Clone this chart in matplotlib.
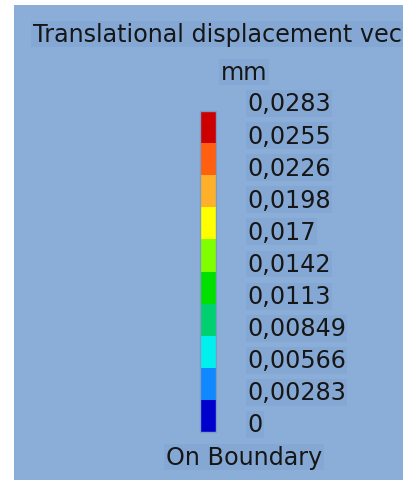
import matplotlib
matplotlib.use("Agg")
import matplotlib.pyplot as plt
from matplotlib.colors import ListedColormap, BoundaryNorm
from matplotlib.colorbar import ColorbarBase
from matplotlib.patches import Rectangle
from matplotlib.transforms import ScaledTranslation, blended_transform_factory

# Legend data
bounds = [0, 0.00283, 0.00566, 0.00849, 0.0113, 0.0142, 0.017, 0.0198, 0.0226, 0.0255, 0.0283]
tick_labels = ["0", "0,00283", "0,00566", "0,00849", "0,0113", "0,0142",
               "0,017", "0,0198", "0,0226", "0,0255", "0,0283"]
band_colors = ["#0000cc", "#1088ff", "#00f0f0", "#00d070", "#00e000",
               "#80ff00", "#ffff00", "#ffb02a", "#ff5f0f", "#cc0000"]
title = "Translational displacement vec"
unit = "mm"
footer = "On Boundary"

W, H, DPI = 403, 481, 100
bg = "#8aaed8"
box = "#84a8d3"
font = "DejaVu Sans"
fs = 17.2

fig = plt.figure(figsize=(W / DPI, H / DPI), dpi=DPI, facecolor="white")

# Panel background
fig.patches.append(Rectangle((14 / W, 0), 1 - 14 / W, 1 - 6 / H,
                             transform=fig.transFigure, facecolor=bg,
                             edgecolor="none", zorder=-10))

def fx(px):
    return px / W

def fy(py):
    return 1 - py / H

txt_kw = dict(fontfamily=font, fontsize=fs, color="#161616",
              bbox=dict(facecolor=box, edgecolor="none", pad=1.0))

fig.text(fx(217), fy(35), title, ha="center", va="center", **txt_kw)
fig.text(fx(244), fy(73), unit, ha="center", va="center", **txt_kw)
fig.text(fx(244), fy(458), footer, ha="center", va="center", **txt_kw)

# Colour bar
cax = fig.add_axes([fx(200), fy(433), 16 / W, 321 / H])
cax.set_zorder(5)
cmap = ListedColormap(band_colors)
norm = BoundaryNorm(bounds, cmap.N)
cb = ColorbarBase(cax, cmap=cmap, norm=norm, boundaries=bounds,
                  spacing="uniform", orientation="vertical")
cb.outline.set_edgecolor("#7f9cc4")
cb.outline.set_linewidth(1.0)
cb.set_ticks([])
cax.minorticks_off()
cax.tick_params(which="both", length=0, labelleft=False, labelright=False)
cax.set_xticks([])

# Value labels next to each band boundary
off = ScaledTranslation(31 / DPI, 7.5 / DPI, fig.dpi_scale_trans)
trans = blended_transform_factory(cax.transAxes, cax.transData) + off
for v, lab in zip(bounds, tick_labels):
    cax.text(1.0, v, lab, transform=trans, ha="left", va="center",
             clip_on=False, **txt_kw)

fig.savefig("out.png", dpi=DPI, facecolor="white")
